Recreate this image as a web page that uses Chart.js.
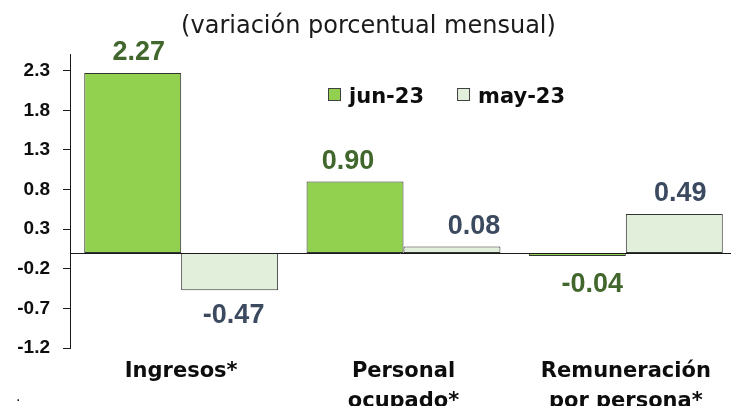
<!DOCTYPE html>
<html>
<head>
<meta charset="utf-8">
<script src="https://cdn.jsdelivr.net/npm/chart.js@4.4.1/dist/chart.umd.min.js"></script>
<style>
html,body{margin:0;padding:0;background:#ffffff;}
#c{display:block;}
</style>
</head>
<body>
<canvas id="c" width="737" height="406"></canvas>
<script>
// ---- data ----
const categories = [['Ingresos*'], ['Personal', 'ocupado*'], ['Remuneración', 'por persona*']];
const seriesNames = ['jun-23', 'may-23'];
const jun23 = [2.27, 0.90, -0.04];
const may23 = [-0.47, 0.08, 0.49];
const yTicks = [-1.2, -0.7, -0.2, 0.3, 0.8, 1.3, 1.8, 2.3];
const titleText = '(variación porcentual mensual)';
const footNote = '.';

// ---- styles ----
const barColors = ['#92D050', '#E2EFDA'];
const labelColors = ['#41672D', '#3C4A60'];
const textColor = '#0d0d0d';
const numFont = '"Liberation Sans", Arial, sans-serif';
const txtFont = '"DejaVu Sans", sans-serif';

const zeroLine = {
  id: 'zeroLine',
  afterDatasetsDraw(chart) {
    const ctx = chart.ctx;
    const y = Math.round(chart.scales.y.getPixelForValue(0)) + 0.5;
    const { left, right } = chart.chartArea;
    ctx.save();
    ctx.strokeStyle = '#1a1a1a';
    ctx.lineWidth = 1;
    ctx.beginPath();
    ctx.moveTo(left, y);
    ctx.lineTo(right - 6, y);
    ctx.stroke();
    ctx.restore();
  }
};

const valueLabels = {
  id: 'valueLabels',
  afterDatasetsDraw(chart, args, opts) {
    const ctx = chart.ctx;
    ctx.save();
    ctx.font = 'bold 27px ' + numFont;
    ctx.textAlign = 'center';
    ctx.textBaseline = 'alphabetic';
    chart.data.datasets.forEach((ds, i) => {
      const meta = chart.getDatasetMeta(i);
      ctx.fillStyle = opts.colors[i];
      meta.data.forEach((bar, j) => {
        const v = ds.data[j];
        const n = opts.nudges[i][j];
        const y = v >= 0 ? bar.y - 13 : bar.y + 33;
        ctx.fillText(v.toFixed(2), bar.x + n[0], y + n[1]);
      });
    });
    ctx.restore();
  }
};

const insideLegend = {
  id: 'insideLegend',
  afterDraw(chart, args, opts) {
    const ctx = chart.ctx;
    ctx.save();
    ctx.font = 'bold 21px ' + txtFont;
    ctx.textBaseline = 'alphabetic';
    ctx.textAlign = 'left';
    let x = opts.x;
    const base = opts.baseline;
    chart.data.datasets.forEach(ds => {
      ctx.fillStyle = ds.backgroundColor;
      ctx.fillRect(x, base - 15, 13, 13);
      ctx.strokeStyle = '#404040';
      ctx.lineWidth = 1;
      ctx.strokeRect(x + 0.5, base - 14.5, 12, 12);
      ctx.fillStyle = textColor;
      ctx.fillText(ds.label, x + 21, base);
      x += 21 + ctx.measureText(ds.label).width + 33;
    });
    // stray footnote dot
    ctx.font = '14px ' + txtFont;
    ctx.fillText(footNote, 16, 401);
    ctx.restore();
  }
};

new Chart(document.getElementById('c'), {
  type: 'bar',
  data: {
    labels: categories,
    datasets: [
      { label: seriesNames[0], data: jun23, backgroundColor: barColors[0], borderColor: '#333333', borderWidth: 1, borderSkipped: false },
      { label: seriesNames[1], data: may23, backgroundColor: barColors[1], borderColor: '#333333', borderWidth: 1, borderSkipped: false }
    ]
  },
  options: {
    responsive: false,
    animation: false,
    devicePixelRatio: 1,
    layout: { padding: { left: 0, right: 0, top: 0, bottom: 0 } },
    datasets: { bar: { categoryPercentage: 0.872, barPercentage: 1.0 } },
    plugins: {
      legend: { display: false },
      tooltip: { enabled: false },
      title: {
        display: true,
        text: titleText,
        color: '#1a1a1a',
        font: { family: txtFont, size: 24, weight: 'normal' },
        padding: { top: 12, bottom: 14 }
      },
      valueLabels: {
        colors: labelColors,
        nudges: [[[6, 0], [-7, 0], [15, 3]], [[4, 0], [22, 0], [6, 0]]]
      },
      insideLegend: { x: 328, baseline: 103 }
    },
    scales: {
      x: {
        grid: { display: false },
        border: { display: false },
        ticks: {
          color: textColor,
          font: { family: txtFont, size: 21, weight: 'bold', lineHeight: 1.45 },
          padding: 0,
          autoSkip: false,
          maxRotation: 0
        },
        afterFit(scale) { scale.height = 58; }
      },
      y: {
        min: -1.2,
        max: 2.5,
        afterBuildTicks(scale) { scale.ticks = yTicks.map(v => ({ value: v })); },
        grid: { display: true, drawOnChartArea: false, drawTicks: true, tickLength: 7, color: '#1a1a1a', lineWidth: 1 },
        border: { display: true, color: '#1a1a1a', width: 1 },
        ticks: {
          color: textColor,
          padding: 13,
          font: { family: numFont, size: 19, weight: 'bold' },
          callback: v => Number(v).toFixed(1)
        },
        afterFit(scale) { scale.width = 70; }
      }
    }
  },
  plugins: [zeroLine, valueLabels, insideLegend]
});
</script>
</body>
</html>
